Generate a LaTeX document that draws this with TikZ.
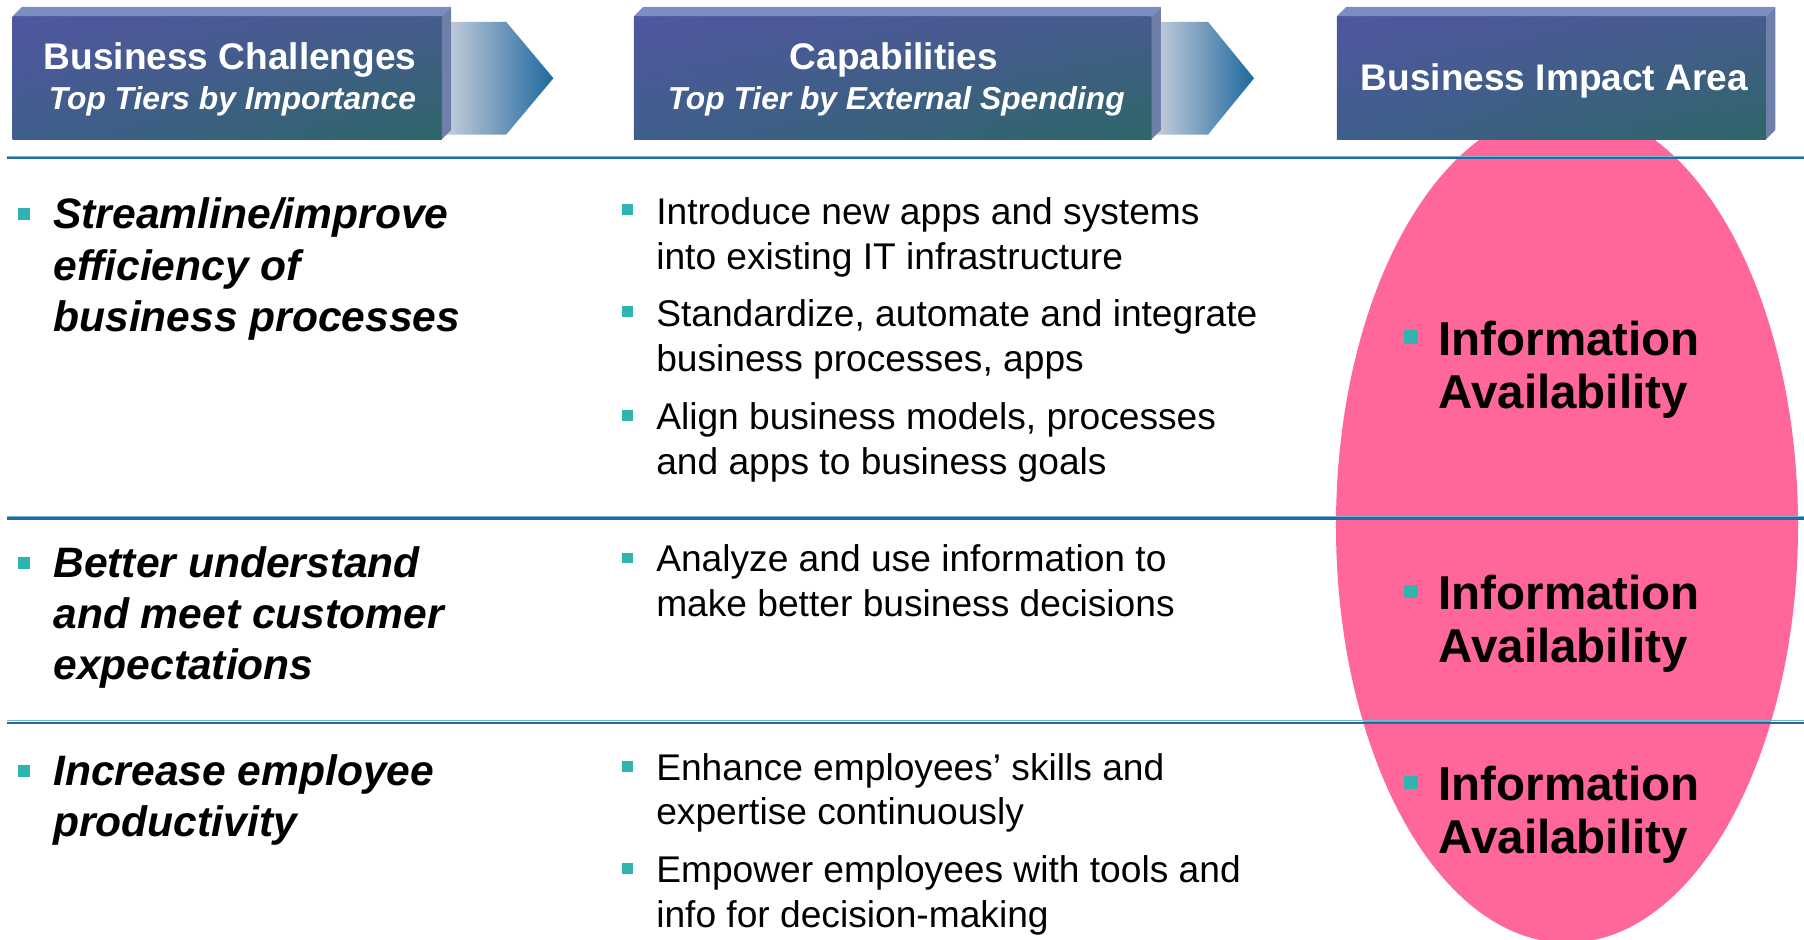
\documentclass[tikz,border=0pt]{standalone}
\usepackage{fontspec}
\setmainfont{Liberation Sans}
\usetikzlibrary{shadings}
\definecolor{teal1}{RGB}{48,180,178}
\definecolor{pinkfill}{RGB}{255,102,153}
\definecolor{rulecol}{RGB}{40,105,160}
\definecolor{rulelight}{RGB}{120,180,205}
\definecolor{boxUL}{RGB}{80,86,160}
\definecolor{boxUR}{RGB}{70,92,140}
\definecolor{boxLL}{RGB}{64,94,140}
\definecolor{boxLR}{RGB}{45,102,104}
\definecolor{bevtopc}{RGB}{122,143,192}
\definecolor{bevsidec}{RGB}{110,128,170}
\definecolor{arrL}{RGB}{200,207,220}
\definecolor{arrR}{RGB}{30,104,158}
\newcommand{\lns}[1]{\begin{tabular}[t]{@{}l@{}}#1\end{tabular}}
\tikzset{
  hdrbox/.style={rectangle, inner sep=0pt, outer sep=0pt, minimum height=53.5pt,
    upper left=boxUL, upper right=boxUR, lower left=boxLL, lower right=boxLR},
  bevtop/.style={fill=bevtopc},
  bevside/.style={fill=bevsidec},
  arrowshape/.style={left color=arrL, right color=arrR},
  hdrtitle/.style={font=\fontsize{16.1pt}{19pt}\selectfont\bfseries, text=white, anchor=base, inner sep=0pt},
  hdrsub/.style={font=\fontsize{13.8pt}{16pt}\selectfont\bfseries\itshape, text=white, anchor=base, inner sep=0pt},
  lefttxt/.style={font=\fontsize{18.5pt}{22.25pt}\selectfont\bfseries\itshape, anchor=base west, inner sep=0pt},
  midtxt/.style={font=\fontsize{16.15pt}{19.5pt}\selectfont, anchor=base west, inner sep=0pt},
  righttxt/.style={font=\fontsize{20.65pt}{23pt}\selectfont\bfseries, anchor=base west, inner sep=0pt},
  sq/.style={rectangle, fill=teal1, minimum size=4.6pt, inner sep=0pt, outer sep=0pt},
  sqbig/.style={sq, minimum size=5.2pt},
  sqlarge/.style={sq, minimum size=5.8pt},
  rule/.style={draw=rulecol, line width=1.1pt},
  rulehi/.style={draw=rulelight, line width=0.4pt},
  impact/.style={fill=pinkfill}
}
\begin{document}
\begin{tikzpicture}[x=0.5pt, y=-0.5pt]
\useasboundingbox (0,0) rectangle (1568,817);
% ellipse (business impact area)
\fill[impact] (1362,457) ellipse [x radius=200.8, y radius=362.5];
% rules
\draw[rulehi] (6,135.6) -- (1568,135.6);
\draw[rule] (6,137.5) -- (1568,137.5);
\draw[rulehi] (6,448.6) -- (1568,448.6);
\draw[rule] (6,450.5) -- (1568,450.5);
\draw[rulehi] (6,626.6) -- (1568,626.6);
\draw[rule] (6,628.5) -- (1568,628.5);
% arrows
\shade[arrowshape] (386,19) -- (440,19) -- (481,68) -- (440,117) -- (386,117) -- cycle;
\shade[arrowshape] (1003,19) -- (1050,19) -- (1090,68) -- (1050,117) -- (1003,117) -- cycle;
% header boxes
\node[hdrbox, minimum width=186.5pt] (h1) at (197.5,67.5) {};
\fill[bevtop] (h1.north west) -- ++(8,-8) -- ([shift={(8,-8)}]h1.north east) -- (h1.north east) -- cycle;
\fill[bevside] (h1.north east) -- ++(8,-8) -- ([shift={(8,-8)}]h1.south east) -- (h1.south east) -- cycle;
\node[hdrbox, minimum width=225pt] (h2) at (776,67.5) {};
\fill[bevtop] (h2.north west) -- ++(8,-8) -- ([shift={(8,-8)}]h2.north east) -- (h2.north east) -- cycle;
\fill[bevside] (h2.north east) -- ++(8,-8) -- ([shift={(8,-8)}]h2.south east) -- (h2.south east) -- cycle;
\node[hdrbox, minimum width=186.5pt] (h3) at (1348.5,67.5) {};
\fill[bevtop] (h3.north west) -- ++(8,-8) -- ([shift={(8,-8)}]h3.north east) -- (h3.north east) -- cycle;
\fill[bevside] (h3.north east) -- ++(8,-8) -- ([shift={(8,-8)}]h3.south east) -- (h3.south east) -- cycle;
% header texts
\node[hdrtitle] (t1) at (200,60.5) {Business Challenges};
\node[hdrsub] (s1) at (202,95) {Top Tiers by Importance};
\node[hdrtitle] (t2) at (777,60.5) {Capabilities};
\node[hdrsub] (s2) at (779,95) {Top Tier by External Spending};
\node[hdrtitle] (t3) at (1351,78.5) {Business Impact Area};
% left column
\node[sqbig] (lb1) at (20.5,186) {};
\node[lefttxt] (lc1) at (46,199) {\lns{Streamline/improve\\efficiency of\\business processes}};
\node[sqbig] (lb2) at (20.5,489) {};
\node[lefttxt] (lc2) at (46,502) {\lns{Better understand\\and meet customer\\expectations}};
\node[sqbig] (lb3) at (20.5,670) {};
\node[lefttxt] (lc3) at (46,683) {\lns{Increase employee\\productivity}};
% middle column
\node[sq] (mb1) at (545.5,182) {};
\node[midtxt] (mc1) at (570,195) {\lns{Introduce new apps and systems\\into existing IT infrastructure}};
\node[sq] (mb2) at (545.5,271) {};
\node[midtxt] (mc2) at (570,284) {\lns{Standardize, automate and integrate\\business processes, apps}};
\node[sq] (mb3) at (545.5,361) {};
\node[midtxt] (mc3) at (570,373) {\lns{Align business models, processes\\and apps to business goals}};
\node[sq] (mb4) at (545.5,485) {};
\node[midtxt] (mc4) at (570,497) {\lns{Analyze and use information to\\make better business decisions}};
\node[sq] (mb5) at (545.5,666) {};
\node[midtxt] (mc5) at (570,678) {\lns{Enhance employees’ skills and\\expertise continuously}};
\node[sq] (mb6) at (545.5,755) {};
\node[midtxt] (mc6) at (570,767) {\lns{Empower employees with tools and\\info for decision-making}};
% right column
\node[sqlarge] (rb1) at (1226.5,293) {};
\node[righttxt] (rc1) at (1250,309) {\lns{Information\\Availability}};
\node[sqlarge] (rb2) at (1226.5,514) {};
\node[righttxt] (rc2) at (1250,530) {\lns{Information\\Availability}};
\node[sqlarge] (rb3) at (1226.5,680) {};
\node[righttxt] (rc3) at (1250,696) {\lns{Information\\Availability}};
\end{tikzpicture}
\end{document}
